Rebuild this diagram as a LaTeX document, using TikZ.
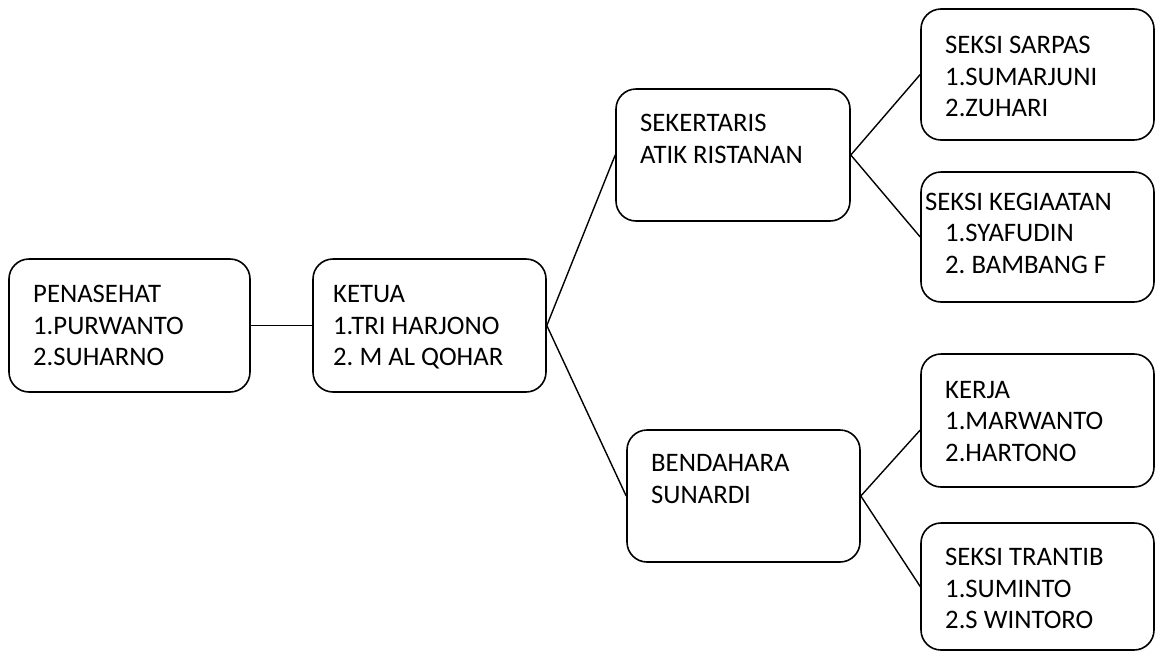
\documentclass[tikz,border=0pt]{standalone}
\usepackage{fontspec}
\setmainfont{Carlito}
\usetikzlibrary{calc}
\frenchspacing

\begin{document}
\begin{tikzpicture}[x=1pt, y=-1pt,
    kotak/.style={draw, line width=1.6pt, rounded corners=20pt, minimum width=233pt, minimum height=132pt, inner sep=0pt},
    isi/.style={anchor=base west, align=left, inner sep=0pt, font=\fontsize{26.7}{31.5}\selectfont},
    garis/.style={line width=1.4pt}]
    \useasboundingbox (0,0) rectangle (1156,651);
    % kotak-kotak
    \node[kotak, minimum width=241pt, minimum height=133pt] (pena) at (129.5,325.5) {};
    \node[kotak, minimum height=133pt] (ketua) at (429.5,325.5) {};
    \node[kotak, minimum width=234pt] (sekr) at (733,155) {};
    \node[kotak] (bend) at (743.5,496) {};
    \node[kotak, minimum height=131pt] (sarpas) at (1037.5,74.5) {};
    \node[kotak, minimum height=130pt] (kegiat) at (1037.5,237) {};
    \node[kotak, minimum height=133pt] (kerja) at (1037.5,420.5) {};
    \node[kotak, minimum height=127pt] (trantib) at (1037.5,586.5) {};
    % isi (baseline baris terakhir)
    \node[isi] (penaT) at (33,365.5) {PENASEHAT\\1.PURWANTO\\2.SUHARNO};
    \node[isi] (ketuaT) at (333,365.5) {KETUA\\1.TRI HARJONO\\2. M AL QOHAR};
    \node[isi] (sekrT) at (640,163) {SEKERTARIS\\ATIK RISTANAN};
    \node[isi] (bendT) at (651,503) {BENDAHARA\\SUNARDI};
    \node[isi] (sarpasT) at (945,116.5) {SEKSI SARPAS\\1.SUMARJUNI\\2.ZUHARI};
    \node[isi] (kegiatT) at (925,273) {SEKSI KEGIAATAN\\\hspace*{20pt}1.SYAFUDIN\\\hspace*{20pt}2. BAMBANG F};
    \node[isi] (kerjaT) at (945,461) {KERJA\\1.MARWANTO\\2.HARTONO};
    \node[isi] (trantibT) at (945,628.5) {SEKSI TRANTIB\\1.SUMINTO\\2.S WINTORO};
    % garis
    \draw[garis] (pena.east) -- (ketua.west);
    \draw[garis] (sekr.west) -- (ketua.east) -- (bend.west);
    \draw[garis] (sarpas.west) -- (sekr.east) -- (kegiat.west);
    \draw[garis] ($(kerja.west)+(0,9.5)$) -- (bend.east) -- (trantib.west);
\end{tikzpicture}
\end{document}
